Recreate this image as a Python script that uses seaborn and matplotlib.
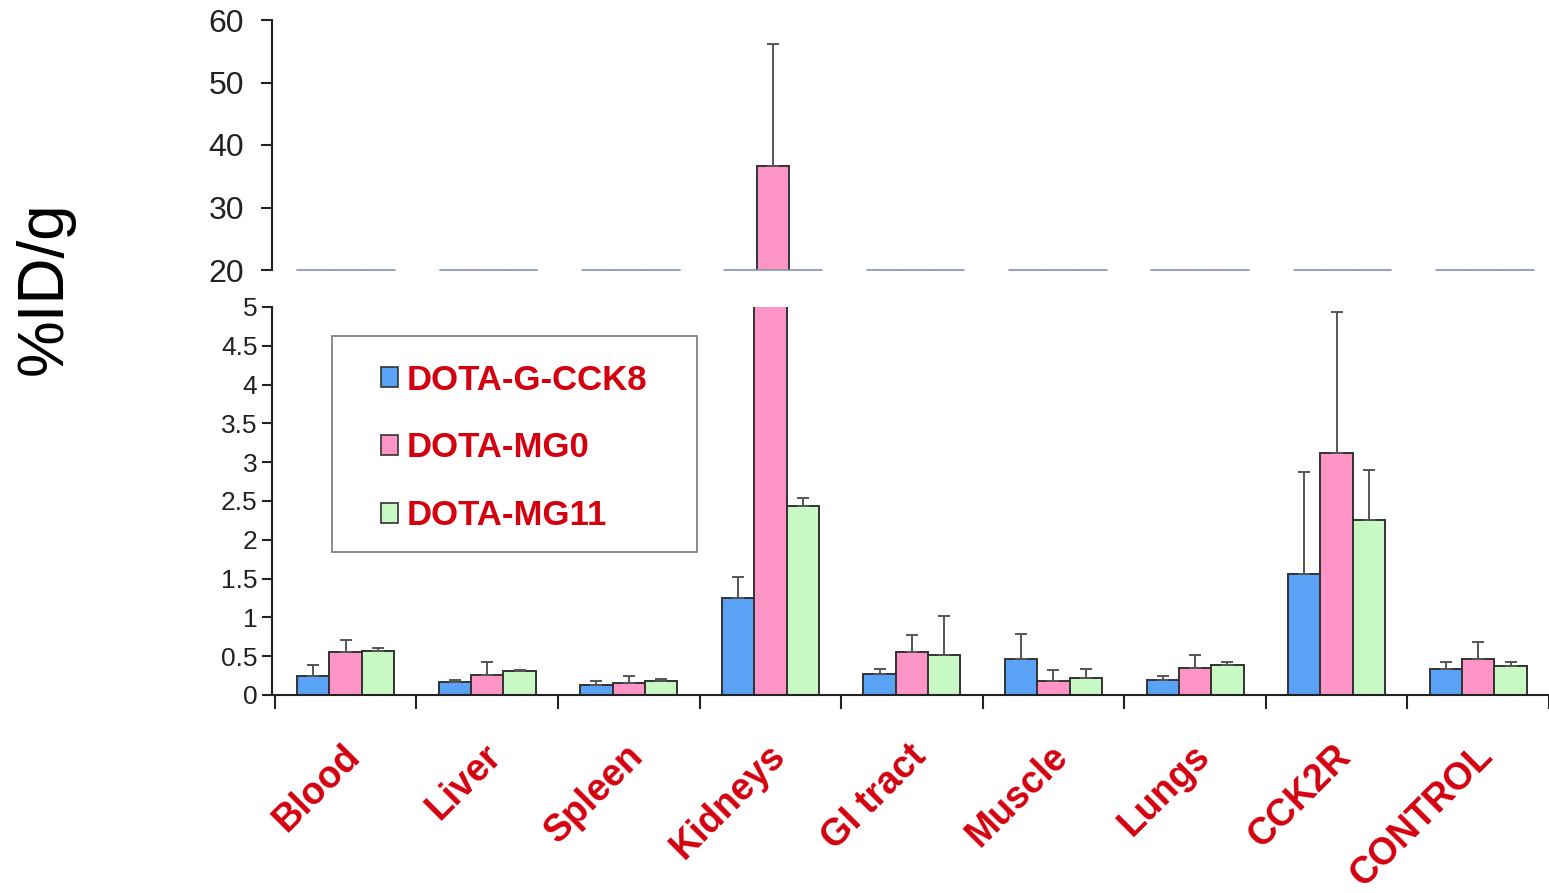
import numpy as np
import pandas as pd
import matplotlib
matplotlib.use("Agg")
import matplotlib.pyplot as plt
import matplotlib.transforms as mtransforms
import seaborn as sns
from matplotlib.patches import Rectangle

# Biodistribution (%ID/g), mean and SD per organ and compound
organs = ["Blood", "Liver", "Spleen", "Kidneys", "GI tract", "Muscle", "Lungs", "CCK2R", "CONTROL"]
compounds = ["DOTA-G-CCK8", "DOTA-MG0", "DOTA-MG11"]

cck8_mean = [0.25, 0.17, 0.13, 1.25, 0.27, 0.47, 0.19, 1.56, 0.34]
cck8_sd = [0.14, 0.02, 0.05, 0.27, 0.06, 0.32, 0.06, 1.31, 0.08]
mg0_mean = [0.55, 0.26, 0.16, 36.6, 0.56, 0.185, 0.35, 3.12, 0.46]
mg0_sd = [0.16, 0.16, 0.09, 19.6, 0.21, 0.135, 0.17, 1.81, 0.22]
mg11_mean = [0.57, 0.31, 0.185, 2.44, 0.52, 0.22, 0.39, 2.26, 0.37]
mg11_sd = [0.03, 0.01, 0.015, 0.10, 0.50, 0.11, 0.03, 0.64, 0.05]

top_ticks = [20, 30, 40, 50, 60]
bottom_ticks = [0, 0.5, 1, 1.5, 2, 2.5, 3, 3.5, 4, 4.5, 5]

colors = ["#5aa2f5", "#ff95c6", "#c8f8c4"]
red = "#d4000f"

means = [cck8_mean, mg0_mean, mg11_mean]
sds = [cck8_sd, mg0_sd, mg11_sd]
df = pd.DataFrame({
    "organ": organs * 3,
    "compound": np.repeat(compounds, len(organs)),
    "value": np.concatenate(means),
})

sns.set_theme(style="white")
plt.rcParams["font.family"] = ["Liberation Sans", "DejaVu Sans"]

W, H = 1549, 893
fig = plt.figure(figsize=(W / 100, H / 100), dpi=100)
left = 272 / W
ax_top = fig.add_axes([left, 1 - 270 / H, 1 - left, 250 / H])
ax_bot = fig.add_axes([left, 1 - 695 / H, 1 - left, 388 / H])

xlim = (-0.52, 8.45)
bar_sets = {}
for ax in (ax_top, ax_bot):
    sns.barplot(data=df, x="organ", y="value", hue="compound", order=organs,
                hue_order=compounds, palette=colors, saturation=1, width=0.685,
                errorbar=None, edgecolor="#333333", linewidth=1.4, legend=False, ax=ax)
    bars = list(ax.containers)
    bar_sets[ax] = bars
    for cont, sd in zip(bars, sds):
        xs = [p.get_x() + p.get_width() / 2 for p in cont]
        hs = [p.get_height() for p in cont]
        ax.errorbar(xs, hs, yerr=[np.zeros(len(sd)), sd], fmt="none", ecolor="#555555",
                    elinewidth=1.4, capsize=4, capthick=1.4, zorder=3)
    ax.set_xlim(*xlim)
    ax.set_xlabel("")
    ax.set_ylabel("")
    for s in ("top", "right"):
        ax.spines[s].set_visible(False)
    ax.spines["left"].set_color("#222222")
    ax.spines["left"].set_linewidth(1.5)

# upper panel: broken-axis section 20-60
ax_top.set_ylim(20, 60)
ax_top.spines["bottom"].set_visible(False)
ax_top.set_xticks([])
ax_top.set_yticks(top_ticks)
ax_top.set_yticklabels([str(t) for t in top_ticks])
ax_top.tick_params(axis="y", direction="out", length=8, width=1.5, labelsize=23, pad=12,
                   colors="#222222", left=True)
for cont in bar_sets[ax_top]:
    for p in cont:
        ax_top.plot([p.get_x(), p.get_x() + p.get_width()], [20, 20], color="#8492ad",
                    lw=1.2, clip_on=False, zorder=4)

# lower panel: 0-5
ax_bot.set_ylim(0, 5)
ax_bot.set_yticks(bottom_ticks)
ax_bot.set_yticklabels([f"{t:g}" for t in bottom_ticks])
ax_bot.tick_params(axis="y", direction="out", length=7, width=1.5, labelsize=19,
                   colors="#222222", left=True)
ax_bot.spines["bottom"].set_color("#222222")
ax_bot.spines["bottom"].set_linewidth(1.5)
major = np.arange(-0.5, 8.6, 1)
ax_bot.set_xticks(major)
ax_bot.set_xticklabels([""] * len(major))
ax_bot.tick_params(axis="x", which="major", direction="out", length=10, width=1.5,
                   colors="#222222", bottom=True)
ax_bot.set_xticks(range(len(organs)), minor=True)
ax_bot.set_xticklabels(organs, minor=True, rotation=45, ha="right", va="center",
                       rotation_mode="anchor", fontsize=27, fontweight="bold", color=red)
ax_bot.tick_params(axis="x", which="minor", length=0, pad=40)
shift = mtransforms.ScaledTranslation(9 / 100, 0, fig.dpi_scale_trans)
for lbl in ax_bot.get_xticklabels(minor=True):
    lbl.set_transform(lbl.get_transform() + shift)

# legend with a plain rectangular frame
handles = [Rectangle((0, 0), 1, 1, facecolor=c, edgecolor="#333333", lw=1.2) for c in colors]
leg = ax_bot.legend(handles, compounds, loc="center left", bbox_to_anchor=(0.085, 0.637),
                    frameon=False, prop={"size": 25, "weight": "bold"}, labelcolor=red,
                    handlelength=0.5, handleheight=0.5, handletextpad=0.25,
                    labelspacing=1.0, borderpad=0, borderaxespad=0)
ax_bot.add_patch(Rectangle((0.047, 0.369), 0.286, 0.556, transform=ax_bot.transAxes,
                           facecolor="none", edgecolor="#777777", lw=1.2, zorder=5))

fig.text(45 / W, 1 - 288 / H, "%ID/g", rotation=90, fontsize=46, ha="center",
         va="center", color="black")

fig.savefig("out.png", dpi=100, facecolor="white")
